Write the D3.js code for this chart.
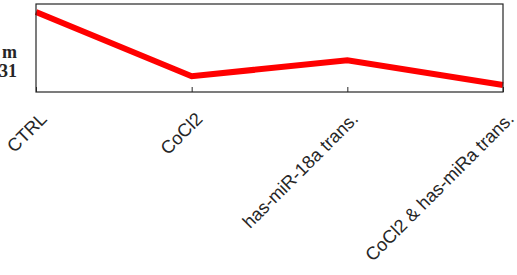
<!DOCTYPE html>
<html>
<head>
<meta charset="utf-8">
<script src="https://cdn.jsdelivr.net/npm/d3@7"></script>
<style>
  body { margin: 0; background: #fff; }
  svg { display: block; }
</style>
</head>
<body>
<svg id="canvas" width="517" height="275"></svg>
<script>
// groups along the x axis
var groups = ['CTRL', 'CoCl2', 'has-miR-18a trans.', 'CoCl2 & has-miRa trans.'];
// relative level for each group (axis 0..1)
var levels = [0.91, 0.18, 0.36, 0.08];
// what is left of the clipped y label
var yLabelBits = ['m', '31'];

var svg = d3.select('#canvas');
var box = { left: 36, right: 503, top: 4, bottom: 92 };

var x = d3.scalePoint().domain(groups).range([box.left, box.right]);
var y = d3.scaleLinear().domain([0, 1]).range([box.bottom, box.top]);

// red line first, frame goes on top
var line = d3.line()
  .x(function(d, i) { return x(groups[i]); })
  .y(function(d) { return y(d); });

svg.append('path')
  .datum(levels)
  .attr('d', line)
  .attr('fill', 'none')
  .attr('stroke', '#ff0000')
  .attr('stroke-width', 6);

// bottom axis, ticks pointing inward, labels done by hand (rotated)
var xAxis = d3.axisBottom(x).tickSizeInner(-5).tickSizeOuter(0).tickFormat('');
var gx = svg.append('g')
  .attr('transform', 'translate(0,' + box.bottom + ')')
  .call(xAxis);
gx.select('.domain').remove();
gx.selectAll('line').attr('stroke', '#262626');

svg.append('rect')
  .attr('x', box.left)
  .attr('y', box.top)
  .attr('width', box.right - box.left)
  .attr('height', box.bottom - box.top)
  .attr('fill', 'none')
  .attr('stroke', '#262626')
  .attr('stroke-width', 1.2);

svg.selectAll('.xlab')
  .data(groups)
  .enter()
  .append('text')
  .attr('class', 'xlab')
  .attr('transform', function(d) { return 'translate(' + (x(d) + 12) + ',' + (box.bottom + 28) + ') rotate(-45)'; })
  .attr('text-anchor', 'end')
  .attr('font-family', 'Liberation Sans, Arial, sans-serif')
  .attr('font-size', 18.2)
  .attr('fill', '#262626')
  .text(function(d) { return d; });

// clipped y label, bold serif
svg.selectAll('.ylab')
  .data(yLabelBits)
  .enter()
  .append('text')
  .attr('class', 'ylab')
  .attr('x', 17)
  .attr('y', function(d, i) { return 58 + i * 19; })
  .attr('text-anchor', 'end')
  .attr('font-family', 'Liberation Serif, Times New Roman, serif')
  .attr('font-weight', 'bold')
  .attr('font-size', 18)
  .attr('fill', '#262626')
  .text(function(d) { return d; });
</script>
</body>
</html>
